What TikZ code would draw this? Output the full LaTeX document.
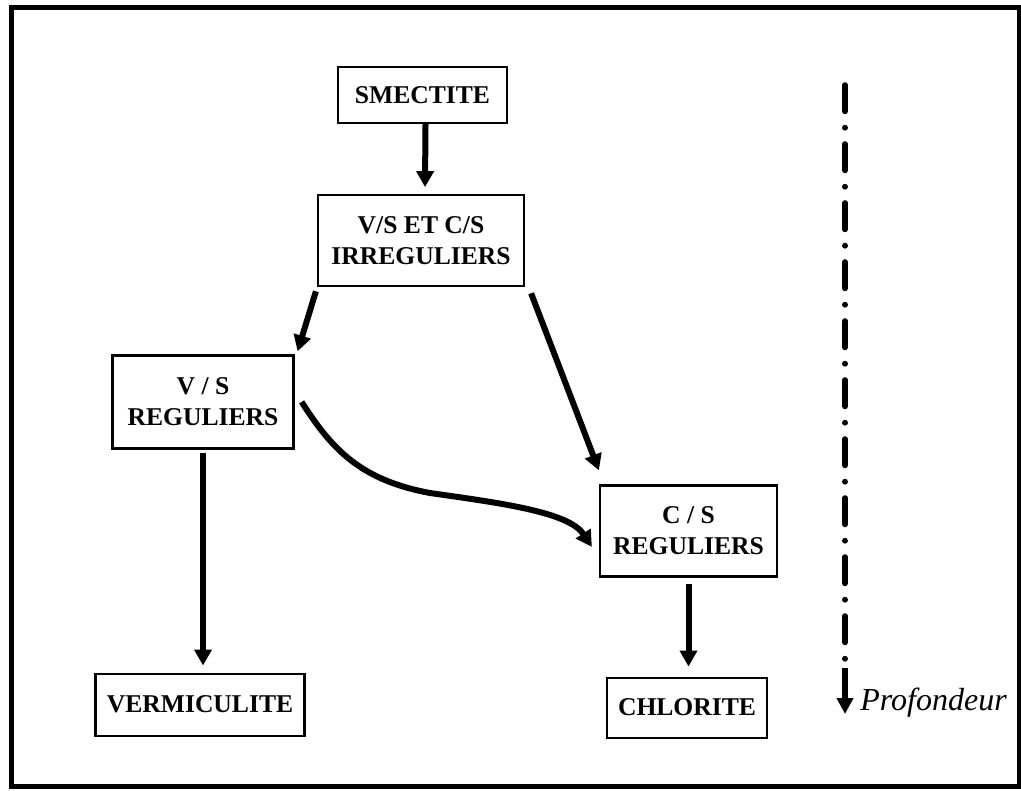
\documentclass[tikz,border=0pt]{standalone}
\usepackage{fontspec}
\setmainfont{Liberation Serif}
\usetikzlibrary{positioning,arrows.meta}

\tikzstyle{minbox}=[rectangle, draw=black, line width=1.1pt, inner sep=2pt, align=center,
font=\fontsize{12.8}{15.5}\selectfont\bfseries]
\tikzstyle{arr}=[-{Triangle[length=8pt,width=8.5pt]}, line width=3pt]
\tikzstyle{depth}=[line width=2.8pt, line cap=round,
dash pattern=on 13.2pt off 8.1pt on 0.1pt off 8.1pt]
\tikzstyle{depthtip}=[-{Triangle[length=8pt,width=8pt]}, line width=2.8pt]

\begin{document}
\begin{tikzpicture}[x=0.5pt,y=-0.5pt]

\useasboundingbox (0,0) rectangle (1021,791);
\draw[line width=2.5pt] (11,8) rectangle (1019,786);

    \node (smec) [minbox, minimum width=84.5pt, minimum height=28pt] at (422.5,95) {SMECTITE};
    \node (irreg) [minbox, minimum width=103pt, minimum height=45.5pt, below=35pt of smec, xshift=-0.75pt] {V/S ET C/S\\IRREGULIERS};
    \node (vs) [minbox, minimum width=90.5pt, minimum height=46.5pt, below=33.5pt of irreg, xshift=-109pt] {V / S\\REGULIERS};
    \node (cs) [minbox, minimum width=88.5pt, minimum height=45.5pt, below=98.5pt of irreg, xshift=133.75pt] {C / S\\REGULIERS};
    \node (verm) [minbox, minimum width=104.5pt, minimum height=31pt, below=111.5pt of vs, xshift=-1.5pt] {VERMICULITE};
    \node (chlor) [minbox, minimum width=80pt, minimum height=30pt, below=49.5pt of cs, xshift=-0.75pt] {CHLORITE};

%Lines ..
   \draw[arr] ([xshift=1.5pt]smec.south) -- ([xshift=2pt,yshift=3.5pt]irreg.north);
   \draw[arr] ([shift={(-1,4)}]irreg.south west) -- ([shift={(3,-3)}]vs.north east);
   \draw[arr] ([shift={(6,6)}]irreg.south east) -- ([shift={(0,-14)}]cs.north west);
   \draw[arr] ([shift={(7,0)}]vs.east) .. controls +(30,47) and +(-70,-13) .. (430,493)
        .. controls +(70,10) and +(-23,-35) .. ([shift={(-7,16)}]cs.west);
   \draw[arr, shorten >=3.5pt] ([yshift=-1.5pt]vs.south) -- (vs.south |- verm.north);
   \draw[arr, shorten >=5pt] ([yshift=-3pt]cs.south) -- (cs.south |- chlor.north);

%depth axis, dash-dot then a solid end with the tip
\coordinate (ptop) at (845,85);
\coordinate (pmid) at (845,660);
\coordinate (pend) at (845,668);
\coordinate (pbot) at (845,714);
\draw[depth] (ptop) -- (pmid);
\draw[depthtip] (pend) -- (pbot);
\node (prof) [anchor=base west, inner sep=0pt, font=\fontsize{16}{19}\selectfont\itshape] at (860,710) {Profondeur};

\end{tikzpicture}
\end{document}
